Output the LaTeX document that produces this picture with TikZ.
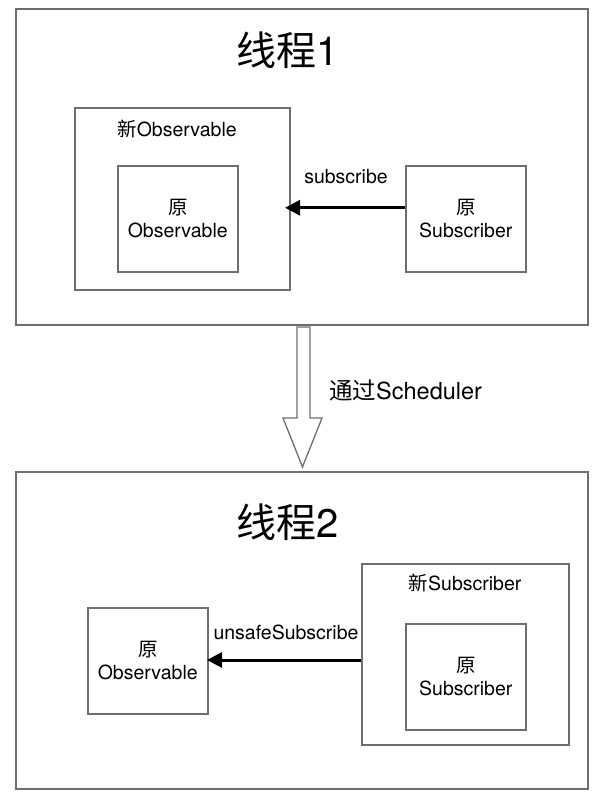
\documentclass[tikz,border=0pt]{standalone}
\usepackage{fontspec}
\setmainfont{TeX Gyre Heros}
\newfontfamily\cjk{Noto Sans CJK SC}
\usetikzlibrary{arrows.meta}
\definecolor{lc}{HTML}{6E6E70}
\tikzset{
  outerbox/.style={draw=lc, line width=2pt},
  box/.style={draw=lc, line width=1.5pt, inner sep=0pt},
  lbl/.style={font=\fontsize{19.5}{23}\selectfont, align=center, inner sep=0pt},
  biglbl/.style={font=\fontsize{23.5}{27}\selectfont, inner sep=0pt},
  title/.style={font=\fontsize{40}{44}\selectfont, inner sep=0pt},
  conn/.style={line width=3pt, -{Triangle[length=15pt,width=15pt]}},
}
\begin{document}
\begin{tikzpicture}[x=1pt,y=-1pt]
\useasboundingbox (0,0) rectangle (600,798);
% thread 1
\node[outerbox, minimum width=572pt, minimum height=316pt, anchor=north west] (t1) at (15,8) {};
\node[title] (t1t) at (288,50) {{\cjk 线程}1};
\node[box, minimum width=215pt, minimum height=182pt, anchor=north west] (newobs) at (74,107) {};
\node[lbl] (newobst) at (177,129) {{\cjk 新}Observable};
\node[box, minimum width=120pt, minimum height=106pt, anchor=north west] (obs1) at (117,165) {};
\node[lbl] at (obs1.center) {{\cjk 原}\\Observable};
\node[box, minimum width=120pt, minimum height=106pt, anchor=north west] (sub1) at (405,165) {};
\node[lbl] at (sub1.center) {{\cjk 原}\\Subscriber};
\draw[conn] ([yshift=11pt]sub1.west) -- ([yshift=11pt]obs1.east -| 285,0) coordinate (a1);
\node[lbl] (l1) at (346,177) {subscribe};
% scheduler arrow
\coordinate (s0) at (303,327);
\node[biglbl, anchor=west] (sch) at (329,390) {{\cjk 通过}Scheduler};
\draw[draw=lc, line width=1.3pt, fill=white, line join=miter]
  (297,327) -- (310,327) -- (310,418) -- (322,418) -- (302.5,467) -- (283,418) -- (297,418) -- cycle;
% thread 2
\node[outerbox, minimum width=572pt, minimum height=317pt, anchor=north west] (t2) at (15,471) {};
\node[title] (t2t) at (288,522) {{\cjk 线程}2};
\node[box, minimum width=120pt, minimum height=106pt, anchor=north west] (obs2) at (87,607) {};
\node[lbl] at (obs2.center) {{\cjk 原}\\Observable};
\node[box, minimum width=207pt, minimum height=181pt, anchor=north west] (newsub) at (361,563) {};
\node[lbl] (newsubt) at (465,583) {{\cjk 新}Subscriber};
\node[box, minimum width=120pt, minimum height=106pt, anchor=north west] (sub2) at (405,623) {};
\node[lbl] at (sub2.center) {{\cjk 原}\\Subscriber};
\draw[conn] (newsub.west |- 0,660) -- (207,660);
\node[lbl] (l2) at (286,632) {unsafeSubscribe};
\end{tikzpicture}
\end{document}
